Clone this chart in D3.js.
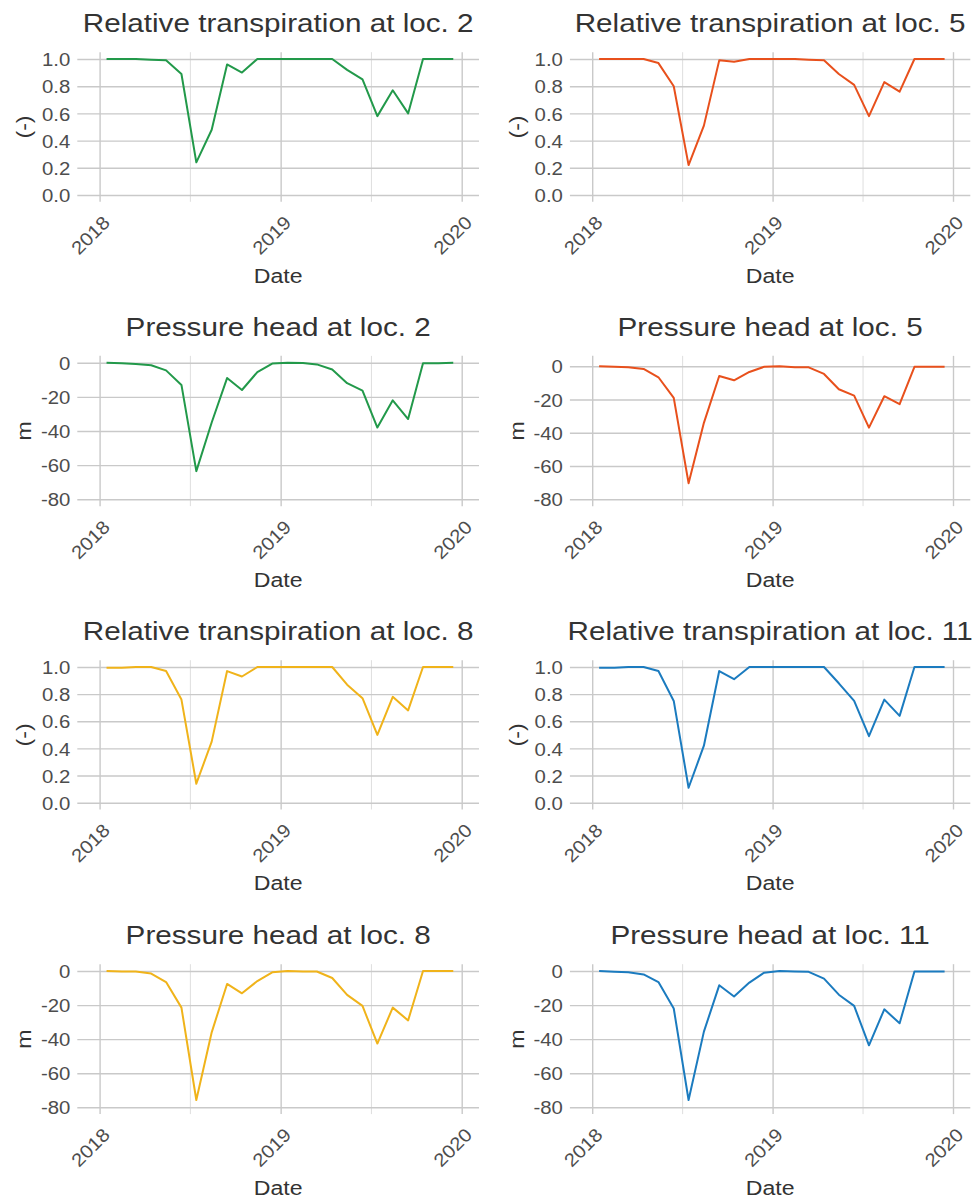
<!DOCTYPE html>
<html>
<head>
<meta charset="utf-8">
<script src="https://cdnjs.cloudflare.com/ajax/libs/d3/7.8.5/d3.min.js"></script>
<style>
    body { margin: 0; background: #fff; }
    text { font-family: "Liberation Sans", Arial, sans-serif; }
</style>
</head>
<body>
<div id="chart"></div>
<script>
// monthly values, mid-month
const months = [
    '2018-01-15', '2018-02-15', '2018-03-15', '2018-04-15', '2018-05-15', '2018-06-15',
    '2018-07-15', '2018-08-15', '2018-09-15', '2018-10-15', '2018-11-15', '2018-12-15',
    '2019-01-15', '2019-02-15', '2019-03-15', '2019-04-15', '2019-05-15', '2019-06-15',
    '2019-07-15', '2019-08-15', '2019-09-15', '2019-10-15', '2019-11-15', '2019-12-15'
];

const rt2 = [1.0, 1.0, 1.0, 0.995, 0.99, 0.89, 0.24, 0.48, 0.96, 0.90, 1.0, 1.0,
             1.0, 1.0, 1.0, 1.0, 0.92, 0.85, 0.58, 0.77, 0.60, 1.0, 1.0, 1.0];
const rt5 = [1.0, 1.0, 1.0, 1.0, 0.97, 0.80, 0.22, 0.51, 0.99, 0.98, 1.0, 1.0,
             1.0, 1.0, 0.995, 0.99, 0.89, 0.81, 0.58, 0.83, 0.76, 1.0, 1.0, 1.0];
const rt8 = [0.995, 0.995, 1.0, 1.0, 0.97, 0.76, 0.14, 0.45, 0.97, 0.93, 1.0, 1.0,
             1.0, 1.0, 1.0, 1.0, 0.87, 0.77, 0.50, 0.78, 0.68, 1.0, 1.0, 1.0];
const rt11 = [0.995, 0.995, 1.0, 1.0, 0.97, 0.75, 0.11, 0.42, 0.97, 0.91, 1.0, 1.0,
              1.0, 1.0, 1.0, 1.0, 0.88, 0.75, 0.49, 0.76, 0.64, 1.0, 1.0, 1.0];

const ph2 = [0, -0.3, -0.8, -1.5, -4.5, -13, -63.5, -35, -9, -16, -5.5, -0.5,
             0, -0.2, -1, -4, -12, -16.4, -38, -22, -33, -0.3, -0.3, 0];
const ph5 = [0, -0.3, -0.6, -1.6, -6.6, -19, -70.3, -34, -5.8, -8.4, -3.4, -0.3,
             0, -0.5, -0.6, -4.6, -13.8, -17.6, -36.9, -18, -22.8, -0.3, -0.3, -0.3];
const ph8 = [0, -0.3, -0.3, -1.5, -6.5, -21.5, -75.7, -36, -7.6, -13.1, -5.9, -0.8,
             0, -0.3, -0.3, -4.1, -14, -20.5, -42.6, -21.5, -29, 0, 0, 0];
const ph11 = [0, -0.5, -0.8, -2, -6.5, -22, -75.7, -35.6, -8.4, -15, -6.8, -1,
              0, -0.3, -0.5, -4.5, -13.9, -20.5, -43.6, -22.5, -30.7, -0.3, -0.3, -0.3];

const rtTicks = [0, 0.2, 0.4, 0.6, 0.8, 1.0];
const phTicks = [0, -20, -40, -60, -80];
const yearTicks = ['2018-01-01', '2019-01-01', '2020-01-01'];
const halfYearTicks = ['2018-07-02', '2019-07-02'];

const locations = ['2', '5', '8', '11'];
const colors = ['#22994a', '#e8501c', '#f0b31a', '#1b7bbf'];

// layout (pixel positions of the 2018/2020 ticks and of the outer y ticks)
const colX2018 = [99.6, 592.2];
const colX2020 = [461.7, 953];
const rowYTop = [59, 362.7, 667, 971];
const rowYBot = [195, 499.3, 802.7, 1107.3];

const parse = d3.timeParse('%Y-%m-%d');
const stretch = 1.1;

class LinePanel {
    constructor(col, row, yTopAt) {
        this.x2018 = colX2018[col];
        this.x2020 = colX2020[col];
        this.yTop = yTopAt || rowYTop[row];
        this.yBot = rowYBot[row];
        this.left = this.x2018 - 22.3;
        this.right = this.x2020 + 17.3;
        const pad = 0.05 * (rowYBot[row] - rowYTop[row]);
        this.top = rowYTop[row] - pad;
        this.bottom = this.yBot + pad;
    }

    Create(svg, opts) {
        const x = d3.scaleTime()
            .domain([parse('2018-01-01'), parse('2020-01-01')])
            .range([this.x2018, this.x2020]);
        const y = d3.scaleLinear()
            .domain(opts.domain)
            .range([this.yBot, this.yTop]);
        const h = this.bottom - this.top;
        const w = this.right - this.left;
        const g = svg.append('g');

        // minor vertical grid
        g.append('g')
            .attr('transform', `translate(0, ${this.bottom})`)
            .call(d3.axisBottom(x).tickValues(halfYearTicks.map(parse)).tickSize(-h).tickFormat(''))
            .call(a => a.select('.domain').remove())
            .call(a => a.selectAll('line').attr('stroke', '#dedede').attr('stroke-width', 1));

        // horizontal grid + y labels
        g.append('g')
            .attr('transform', `translate(${this.left}, 0)`)
            .call(d3.axisLeft(y).tickValues(opts.ticks).tickSize(-w).tickPadding(7)
                .tickFormat(opts.format))
            .call(a => a.select('.domain').remove())
            .call(a => a.selectAll('line').attr('stroke', '#c9c9c9').attr('stroke-width', 1.4))
            .call(a => a.selectAll('text')
                .attr('fill', '#4d4d4d')
                .attr('font-size', 18.5)
                .attr('dy', '0.36em')
                .attr('transform', `scale(${stretch}, 1)`)
                .attr('x', -7 / stretch));

        // vertical major grid + year labels
        g.append('g')
            .attr('transform', `translate(0, ${this.bottom})`)
            .call(d3.axisBottom(x).tickValues(yearTicks.map(parse)).tickSize(-h)
                .tickFormat(d3.timeFormat('%Y')))
            .call(a => a.select('.domain').remove())
            .call(a => a.selectAll('line').attr('stroke', '#c9c9c9').attr('stroke-width', 1.4))
            .call(a => a.selectAll('text')
                .attr('fill', '#4d4d4d')
                .attr('font-size', 18.5)
                .attr('x', null).attr('y', null).attr('dy', null)
                .attr('text-anchor', 'end')
                .attr('transform', `translate(11, 22) rotate(-45) scale(${stretch}, 1)`));

        const line = d3.line()
            .x(d => x(d.date))
            .y(d => y(d.value));

        g.append('path')
            .datum(opts.values.map((v, i) => ({ date: parse(months[i]), value: v })))
            .attr('d', line)
            .attr('fill', 'none')
            .attr('stroke', opts.color)
            .attr('stroke-width', 2)
            .attr('stroke-linejoin', 'round');

        const cx = (this.left + this.right) / 2;
        g.append('text')
            .attr('transform', `translate(${cx}, ${this.top - 20}) scale(1.12, 1)`)
            .attr('text-anchor', 'middle')
            .attr('font-size', 26.5)
            .attr('fill', '#333')
            .text(opts.title);

        g.append('text')
            .attr('transform', `translate(${cx}, ${this.bottom + 81}) scale(${stretch}, 1)`)
            .attr('text-anchor', 'middle')
            .attr('font-size', 21)
            .attr('fill', '#333')
            .text('Date');

        g.append('text')
            .attr('transform', `translate(${this.left - 46}, ${(this.top + this.bottom) / 2}) rotate(-90) scale(${stretch}, 1)`)
            .attr('text-anchor', 'middle')
            .attr('font-size', 21)
            .attr('fill', '#333')
            .text(opts.yLabel);
    }
}

const svg = d3.select('#chart')
    .append('svg')
    .attr('width', 978)
    .attr('height', 1200);

const rtSeries = [rt2, rt5, rt8, rt11];
const phSeries = [ph2, ph5, ph8, ph11];

rtSeries.forEach((values, i) => {
    const col = i % 2;
    const row = Math.floor(i / 2) * 2;
    new LinePanel(col, row).Create(svg, {
        title: `Relative transpiration at loc. ${locations[i]}`,
        yLabel: '(-)',
        domain: [0, 1],
        ticks: rtTicks,
        format: d3.format('.1f'),
        values: values,
        color: colors[i]
    });
});

phSeries.forEach((values, i) => {
    const col = i % 2;
    const row = Math.floor(i / 2) * 2 + 1;
    // loc. 5 panel sits a little lower in the reference
    const yTopAt = i === 1 ? 366.3 : null;
    new LinePanel(col, row, yTopAt).Create(svg, {
        title: `Pressure head at loc. ${locations[i]}`,
        yLabel: 'm',
        domain: [-80, 0],
        ticks: phTicks,
        format: d => String(d),
        values: values,
        color: colors[i]
    });
});
</script>
</body>
</html>
